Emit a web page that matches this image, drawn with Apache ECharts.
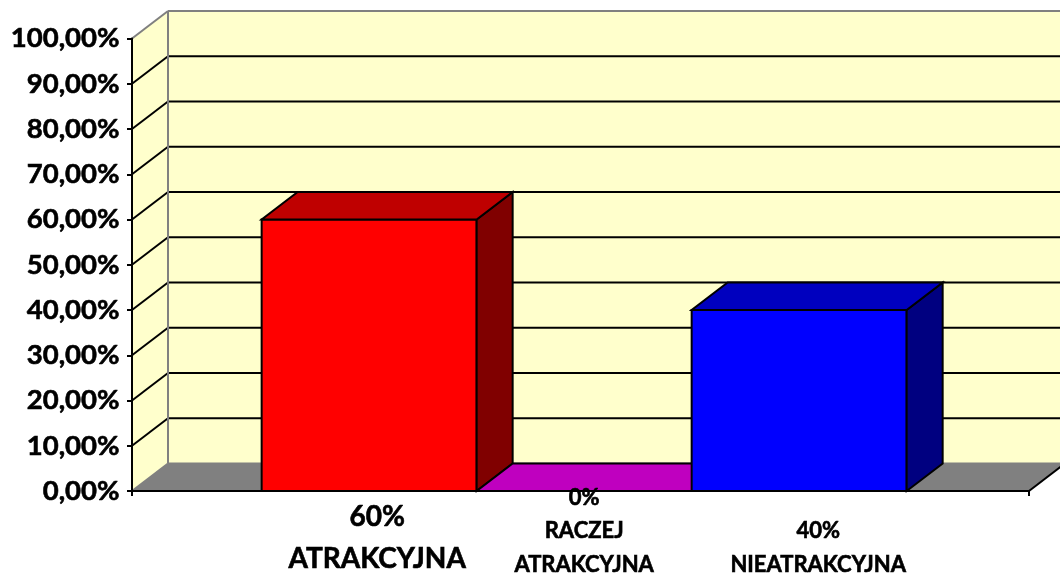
<!DOCTYPE html>
<html>
<head>
<meta charset="utf-8">
<style>html,body{margin:0;padding:0;background:#fff;overflow:hidden}#c{width:1060px;height:574px}</style>
<script src="https://cdn.jsdelivr.net/npm/echarts@6/dist/echarts.min.js"></script>
</head>
<body>
<div id="c"></div>
<script>
const categories = ['ATRAKCYJNA', 'RACZEJ\nATRAKCYJNA', 'NIEATRAKCYJNA'];
const seriesValues = [60, 0, 40];
const valueLabels = ['60%', '0%', '40%'];
const yTickValues = [0, 10, 20, 30, 40, 50, 60, 70, 80, 90, 100];
const frontColors = ['#FF0000', '#FF00FF', '#0000FF'];
const topColors = ['#BF0000', '#BF00BF', '#0000BF'];
const sideColors = ['#800000', '#800080', '#000080'];

const FONT = 'Lato, Carlito, "Open Sans", sans-serif';
const DX = 36, DY = -27.5;
const X_MIN = -1.103, X_MAX = 3.069;
// per-category label layout: dx from bar centre, baseline rows (px below floor), font size
const labelLayout = [
  { dx: 8,  rows: [26, 68], size: 28 },
  { dx: 0,  rows: [7, 40, 74], size: 22 },
  { dx: 19, rows: [40, 74], size: 22 }
];

function poly(points, fill, stroke, width) {
  return { type: 'polygon', shape: { points: points },
    style: { fill: fill, stroke: stroke || null, lineWidth: width || 0, lineJoin: 'miter' } };
}
function seg(a, b, color, width) {
  return { type: 'line', shape: { x1: a[0], y1: a[1], x2: b[0], y2: b[1] },
    style: { stroke: color, lineWidth: width } };
}
const back = p => [p[0] + DX, p[1] + DY];

function renderWalls(params, api) {
  const bl = api.coord([X_MIN, 0]), br = api.coord([X_MAX, 0]);
  const tl = api.coord([X_MIN, 100]), tr = api.coord([X_MAX, 100]);
  const kids = [
    poly([bl, back(bl), back(tl), tl], '#FFFFCC'),
    poly([back(bl), back(br), back(tr), back(tl)], '#FFFFCC'),
    poly([bl, br, back(br), back(bl)], '#808080')
  ];
  yTickValues.forEach(v => {
    if (v === 0 || v === 100) return;
    const a = api.coord([X_MIN, v]), b = api.coord([X_MAX, v]);
    kids.push(seg(a, back(a), '#000', 2));
    kids.push(seg(back(a), back(b), '#000', 2));
  });
  kids.push(seg(tl, back(tl), '#808080', 2));
  kids.push(seg(back(tl), back(tr), '#808080', 2));
  kids.push(seg(back(tl), back(bl), '#808080', 2));
  kids.push(seg(back(bl), back(br), '#808080', 2));
  kids.push(seg(bl, back(bl), '#808080', 2));
  kids.push(seg(br, back(br), '#000', 2));
  return { type: 'group', children: kids };
}

function renderBar(params, api) {
  const i = api.value(0), v = api.value(1);
  const a = api.coord([i - 0.5, 0]), b = api.coord([i + 0.5, 0]);
  const c = api.coord([i + 0.5, v]), d = api.coord([i - 0.5, v]);
  const k = params.dataIndex;
  const kids = [];
  if (v > 0) {
    kids.push(poly([a, b, c, d], frontColors[k], '#000', 2));
    kids.push(poly([b, back(b), back(c), c], sideColors[k], '#000', 2));
  }
  kids.push(poly([d, c, back(c), back(d)], topColors[k], '#000', 2));
  return { type: 'group', children: kids };
}

function renderLabel(params, api) {
  const i = api.value(0);
  const k = params.dataIndex;
  const base = api.coord([i, 0]);
  const lay = labelLayout[k];
  const lines = [valueLabels[k]].concat(categories[k].split('\n'));
  return { type: 'group', children: lines.map((t, n) => ({
    type: 'text', z2: 100,
    style: { x: base[0] + lay.dx, y: base[1] + lay.rows[n], text: t, fill: '#000',
      stroke: '#000', lineWidth: 0.6,
      font: 'bold ' + lay.size + 'px ' + FONT, align: 'center', verticalAlign: 'middle' }
  })) };
}

const barData = seriesValues.map((v, i) => [i, v]);
const chart = echarts.init(document.getElementById('c'), null, { renderer: 'canvas' });
chart.setOption({
  animation: false,
  backgroundColor: '#fff',
  grid: { left: 132, right: 31, top: 38.5, bottom: 83 },
  xAxis: {
    type: 'value', min: X_MIN, max: X_MAX, z: 5,
    axisLine: { show: true, onZero: false, lineStyle: { color: '#000', width: 2 } },
    axisTick: { show: true, length: 5, customValues: [X_MIN, X_MAX], lineStyle: { color: '#000', width: 2 } },
    axisLabel: { show: false }, splitLine: { show: false }
  },
  yAxis: {
    type: 'value', min: 0, max: 100, interval: 10, z: 5,
    axisLine: { show: true, onZero: false, lineStyle: { color: '#000', width: 2 } },
    axisTick: { show: true, length: 5, lineStyle: { color: '#000', width: 2 } },
    axisLabel: { margin: 12.5, color: '#000', fontFamily: FONT, fontWeight: 'bold', fontSize: 27.5,
      textBorderColor: '#000', textBorderWidth: 0.6,
      formatter: v => v.toFixed(2).replace('.', ',') + '%' },
    splitLine: { show: false }
  },
  series: [
    { type: 'custom', z: 1, silent: true, renderItem: renderWalls, data: [[0, 0]], clip: false },
    { type: 'custom', z: 2, silent: true, renderItem: renderBar, data: barData, clip: false,
      encode: { x: 0, y: 1 } },
    { type: 'custom', z: 6, silent: true, renderItem: renderLabel, data: barData, clip: false,
      encode: { x: 0, y: 1 } }
  ]
});
</script>
</body>
</html>
